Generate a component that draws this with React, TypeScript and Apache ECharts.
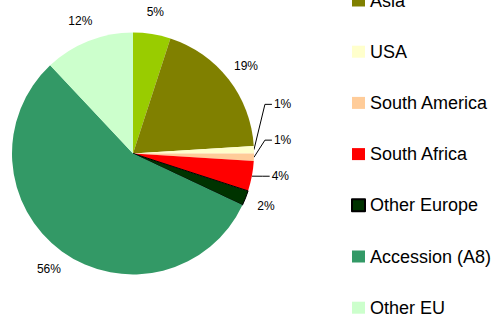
import React, { useEffect, useRef } from "react";
import * as echarts from "echarts";

const categories = ["Other", "Asia", "USA", "South America", "South Africa", "Other Europe", "Accession (A8)", "Other EU"];
const values = [5, 19, 1, 1, 4, 2, 56, 12];
const colors = ["#99CC00", "#808000", "#FFFFCC", "#FFCC99", "#FF0000", "#003300", "#339966", "#CCFFCC"];
const lineLabels = [false, false, true, true, true, false, false, false];
const legendNames = categories.slice(1);

// vertical nudges (px) for the small leader-line labels, by slice index
const labelShift: Record<number, number> = { 2: -45, 3: -17.5, 4: -2 };

export default function App() {
  const ref = useRef<HTMLDivElement>(null);
  useEffect(() => {
    const chart = echarts.init(ref.current!, null, { renderer: "svg" });
    const font = "Liberation Sans, Arial, sans-serif";
    chart.setOption({
      animation: false,
      backgroundColor: "#ffffff",
      legend: {
        orient: "vertical",
        left: 351,
        top: -8.5,
        height: 420,
        padding: 0,
        itemWidth: 13,
        itemHeight: 12,
        itemGap: 33.2,
        icon: "rect",
        selectedMode: false,
        data: legendNames,
        textStyle: {
          fontFamily: font,
          fontSize: 18,
          lineHeight: 18,
          color: "#000000",
        },
      },
      series: [
        {
          type: "pie",
          center: [133, 153.5],
          radius: 121,
          startAngle: 90,
          clockwise: true,
          avoidLabelOverlap: false,
          data: categories.map((name, i) => ({
            name,
            value: values[i],
            itemStyle: {
              color: colors[i],
              borderColor: i === 5 ? "#000000" : colors[i],
              borderWidth: i === 5 ? 1 : 0,
            },
            label: { distanceToLabelLine: lineLabels[i] ? 2 : 0 },
            labelLine: lineLabels[i]
              ? { show: true, length: 11, length2: 7 }
              : { show: false, length: 22, length2: 0 },
          })),
          label: {
            show: true,
            position: "outside",
            formatter: (p: any) => `${p.value}%`,
            fontFamily: font,
            fontSize: 12,
            color: "#000000",
          },
          labelLine: {
            lineStyle: { color: "#000000", width: 1 },
          },
          labelLayout: (p: any) => {
            const i = p.dataIndex;
            if (lineLabels[i]) {
              const dy = labelShift[i] || 0;
              const pts = p.labelLinePoints;
              if (!pts) return { dy };
              const y = pts[2][1] + dy;
              return {
                dy,
                labelLinePoints: [pts[0], [pts[1][0], y], [pts[2][0], y]],
              };
            }
            const w = p.labelRect.width;
            return { dx: p.align === "left" ? -w / 2 : p.align === "right" ? w / 2 : 0 };
          },
        },
      ],
    });
    return () => chart.dispose();
  }, []);
  return <div ref={ref} style={{ width: 499, height: 316, position: "absolute", left: 0, top: 0 }} />;
}
